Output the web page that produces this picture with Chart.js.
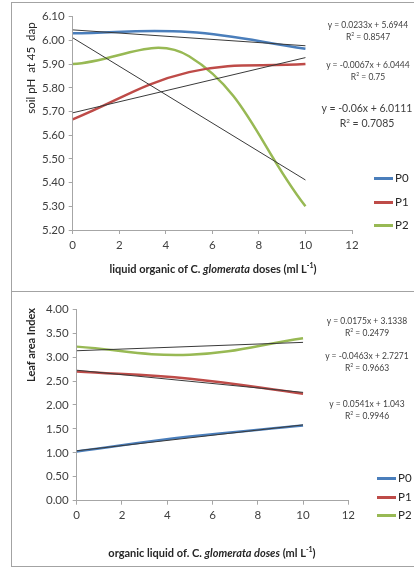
<!DOCTYPE html>
<html>
<head>
<meta charset="utf-8">
<script src="https://cdn.jsdelivr.net/npm/chart.js"></script>
<style>
  body { margin: 0; background: #fff; width: 414px; height: 567px; overflow: hidden; position: relative; font-family: Lato, "Open Sans", sans-serif; }
  canvas { position: absolute; left: 0; }
  .frame { position: absolute; border: 1px solid #a3a3a3; }
  .txt { position: absolute; white-space: nowrap; color: #404040; transform: translate(-50%, -50%); line-height: 1; }
  .eq { font-size: 8.5px; text-align: center; }
  .eq.big { font-size: 10.5px; }
  .axt { font-size: 11px; font-weight: bold; color: #262626; }
  .yt { transform: translate(-50%, -50%) rotate(-90deg); }
  .lg { position: absolute; height: 3px; }
  .lgt { position: absolute; font-size: 11.5px; color: #262626; transform: translateY(-50%); line-height: 1; }
</style>
</head>
<body>
<div class="frame" style="left:11px; top:2px; width:460px; height:288px;"></div>
<div class="frame" style="left:11px; top:291px; width:460px; height:274px;"></div>
<canvas id="phChart" width="414" height="290" style="top:0"></canvas>
<canvas id="laiChart" width="414" height="277" style="top:290px"></canvas>

<!-- axis titles -->
<div class="txt axt" style="left:213px; top:268px;">liquid organic of C. <i>glomerata</i> doses (ml L<sup style="font-size:7px">-1</sup>)</div>
<div class="txt yt" style="left:31px; top:68px; font-size:11.5px; color:#262626;">soil pH&nbsp; at 45&nbsp; dap</div>
<div class="txt axt" style="left:212px; top:552px;">organic liquid of. C. <i>glomerata doses</i> (ml L<sup style="font-size:7px">-1</sup>)</div>
<div class="txt axt yt" style="left:30px; top:345px;">Leaf area Index</div>

<div id="labels"></div>

<script>
// doses of liquid organic fertilizer (ml/L)
const doses = [0, 5, 10];
const seriesNames = ["P0", "P1", "P2"];
const seriesColors = ["#4a7ebb", "#be4b48", "#98b954"];

// soil pH at 45 dap
const phP0 = [6.03, 6.035, 5.965];
const phP1 = [5.667, 5.866, 5.9];
const phP2 = [5.9, 5.933, 5.3];
const phSlope = [-0.0067, 0.0233, -0.06];
const phIntercept = [6.0444, 5.6944, 6.0111];
const phR2 = ["0.75", "0.8547", "0.7085"];

// leaf area index
const laiP0 = [1.03, 1.34, 1.57];
const laiP1 = [2.7, 2.55, 2.237];
const laiP2 = [3.22, 3.05, 3.395];
const laiSlope = [0.0541, -0.0463, 0.0175];
const laiIntercept = [1.043, 2.7271, 3.1338];
const laiR2 = ["0.9946", "0.9663", "0.2479"];

const xTicks = [0, 2, 4, 6, 8, 10, 12];

function pts(ys) {
  return doses.map((x, i) => ({ x: x, y: ys[i] }));
}

function buildDatasets(series, slopes, intercepts) {
  const sets = [];
  series.forEach((ys, i) => {
    sets.push({
      label: seriesNames[i],
      data: pts(ys),
      showLine: true,
      borderColor: seriesColors[i],
      borderWidth: 2.5,
      pointRadius: 0,
      tension: 0.4,
      order: 2,
    });
  });
  // linear trend lines on top
  slopes.forEach((m, i) => {
    const x0 = doses[0], x1 = doses[doses.length - 1];
    sets.push({
      label: "trend " + seriesNames[i],
      data: [{ x: x0, y: m * x0 + intercepts[i] }, { x: x1, y: m * x1 + intercepts[i] }],
      showLine: true,
      borderColor: "#3a3a3a",
      borderWidth: 1,
      pointRadius: 0,
      order: 1,
    });
  });
  return sets;
}

function makeChart(id, datasets, area, yMin, yMax, yStep) {
  const canvas = document.getElementById(id);
  const ctx = canvas.getContext("2d");
  const tickFont = { family: "Lato", size: 11.5 };
  return new Chart(ctx, {
    type: "scatter",
    data: { datasets: datasets },
    options: {
      responsive: false,
      animation: false,
      devicePixelRatio: 1,
      layout: { padding: { left: 0, top: area.top, right: canvas.width - area.right, bottom: 0 } },
      plugins: { legend: { display: false }, tooltip: { enabled: false } },
      scales: {
        x: {
          type: "linear",
          min: 0,
          max: 12,
          afterBuildTicks: (s) => { s.ticks = xTicks.map((v) => ({ value: v })); },
          afterFit: (s) => { s.height = canvas.height - area.bottom; },
          ticks: { color: "#404040", font: tickFont, padding: 4, maxRotation: 0 },
          grid: { drawOnChartArea: false, drawTicks: true, tickLength: 4, color: "#a6a6a6" },
          border: { color: "#a6a6a6" },
        },
        y: {
          min: yMin,
          max: yMax,
          ticks: {
            stepSize: yStep,
            color: "#404040",
            font: tickFont,
            padding: 4,
            callback: (v) => Number(v).toFixed(2),
          },
          afterFit: (s) => { s.width = area.left; },
          grid: { drawOnChartArea: false, drawTicks: true, tickLength: 4, color: "#a6a6a6" },
          border: { color: "#a6a6a6" },
        },
      },
    },
  });
}

makeChart("phChart", buildDatasets([phP0, phP1, phP2], phSlope, phIntercept),
  { left: 72.7, right: 352, top: 16.7, bottom: 230 }, 5.2, 6.1, 0.1);
makeChart("laiChart", buildDatasets([laiP0, laiP1, laiP2], laiSlope, laiIntercept),
  { left: 76.7, right: 348.3, top: 19.3, bottom: 210.7 }, 0, 4, 0.5);

// trend line equations and legends
function eqText(m, b) {
  return "y = " + m + "x + " + b;
}

const holder = document.getElementById("labels");
function addEq(x, y, m, b, r2, big) {
  const d1 = document.createElement("div");
  d1.className = "txt eq" + (big ? " big" : "");
  d1.style.left = x + "px";
  d1.style.top = y + "px";
  d1.textContent = eqText(m, b);
  holder.appendChild(d1);
  const d2 = document.createElement("div");
  d2.className = "txt eq" + (big ? " big" : "");
  d2.style.left = x + "px";
  d2.style.top = (y + (big ? 15 : 12)) + "px";
  d2.innerHTML = "R<sup style='font-size:0.6em'>2</sup> = " + r2;
  holder.appendChild(d2);
}

// soil pH panel: P1, P0, P2 from top
addEq(368, 25, phSlope[1], phIntercept[1], phR2[1], false);
addEq(368, 65, phSlope[0], phIntercept[0], phR2[0], false);
addEq(367, 108, phSlope[2], phIntercept[2], phR2[2], true);
// leaf area panel: P2, P1, P0 from top
addEq(367, 321, laiSlope[2], laiIntercept[2], laiR2[2], false);
addEq(367, 356, laiSlope[1], laiIntercept[1], laiR2[1], false);
addEq(367, 404, laiSlope[0], laiIntercept[0], laiR2[0], false);

function addLegend(x, ys) {
  seriesNames.forEach((name, i) => {
    const ln = document.createElement("div");
    ln.className = "lg";
    ln.style.left = x + "px";
    ln.style.top = (ys[i] - 1.5) + "px";
    ln.style.width = "19px";
    ln.style.background = seriesColors[i];
    holder.appendChild(ln);
    const t = document.createElement("div");
    t.className = "lgt";
    t.style.left = (x + 21) + "px";
    t.style.top = ys[i] + "px";
    t.textContent = name;
    holder.appendChild(t);
  });
}
addLegend(374, [178, 202, 225]);
addLegend(377, [478, 497, 515]);
</script>
</body>
</html>
